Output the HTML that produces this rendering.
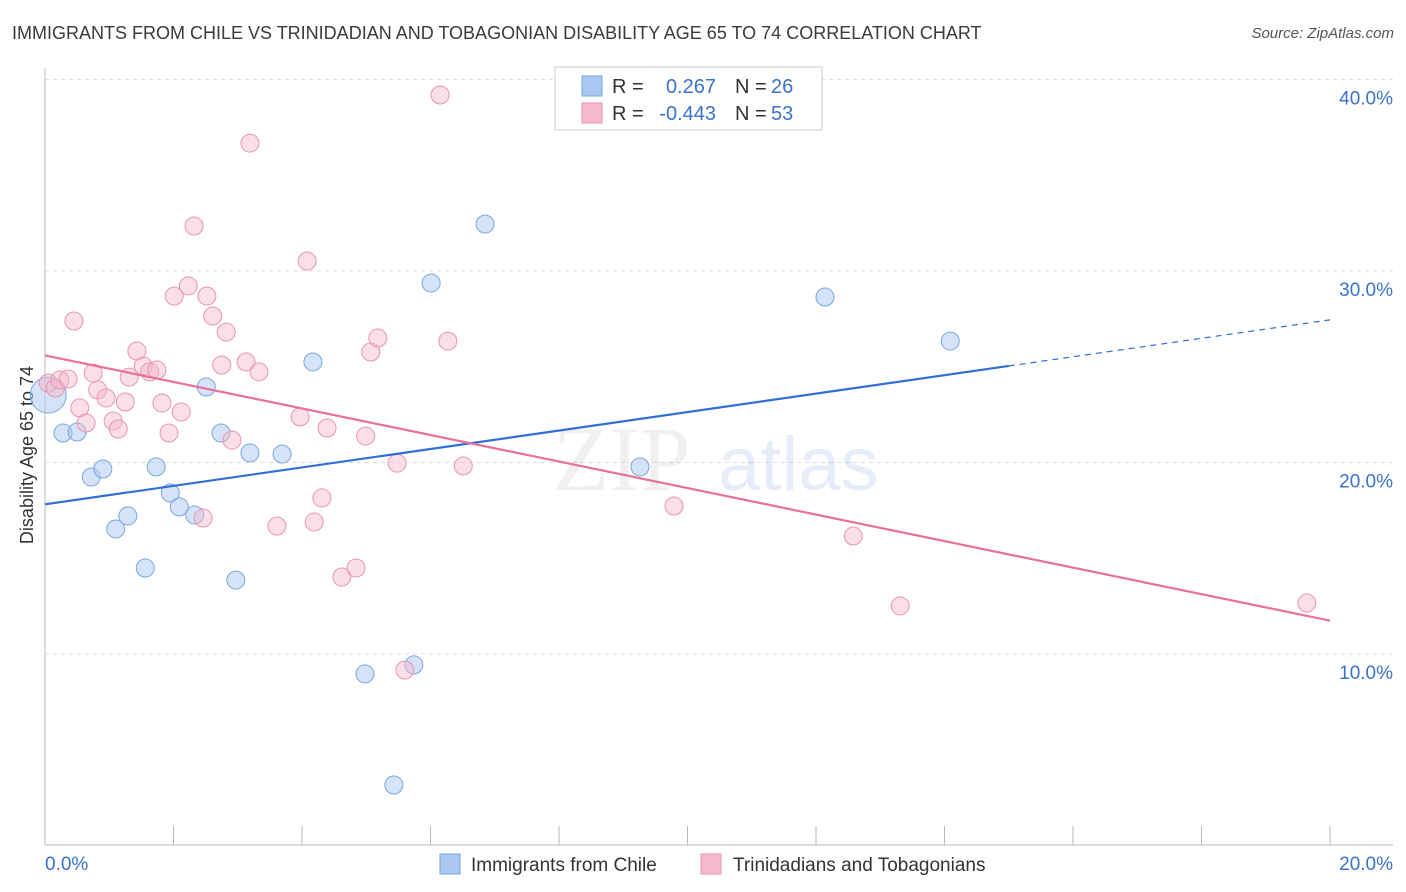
<!DOCTYPE html>
<html><head><meta charset="utf-8"><style>
body{margin:0;background:#fff;font-family:"Liberation Sans",sans-serif;}
#wrap{position:relative;width:1406px;height:892px;overflow:hidden;}
.t{position:absolute;white-space:nowrap;}
</style></head><body>
<div id="wrap">
<div class="t" style="left:12px;top:23px;font-size:18px;color:#3a3a3a">IMMIGRANTS FROM CHILE VS TRINIDADIAN AND TOBAGONIAN DISABILITY AGE 65 TO 74 CORRELATION CHART</div>
<div class="t" style="right:12px;top:25px;font-size:15px;color:#555;font-style:italic">Source: ZipAtlas.com</div>
<svg id="svg" width="1406" height="892" style="position:absolute;left:0;top:0"></svg>
</div>
<script>
const blueX=[0.05,0.28,0.50,0.72,0.90,1.10,1.29,1.56,1.73,1.95,2.09,2.33,2.51,2.74,2.97,3.19,3.69,4.17,4.98,5.43,5.74,6.01,6.85,9.26,12.14,14.09];
const blueY=[23.52,21.54,21.59,19.24,19.66,16.53,17.21,14.49,19.77,18.41,17.68,17.26,23.94,21.54,13.86,20.50,20.44,25.25,8.96,3.16,9.43,29.37,32.45,19.77,28.64,26.34];
const pinkX=[0.05,0.16,0.23,0.36,0.45,0.54,0.64,0.75,0.82,0.95,1.06,1.14,1.25,1.31,1.43,1.53,1.63,1.74,1.82,1.93,2.01,2.12,2.23,2.32,2.46,2.52,2.61,2.75,2.82,2.91,3.13,3.19,3.33,3.61,3.97,4.08,4.19,4.31,4.39,4.62,4.84,4.99,5.07,5.18,5.48,5.60,6.15,6.27,6.51,9.79,12.58,13.31,19.64];
const pinkY=[24.15,23.89,24.31,24.36,27.39,22.85,22.06,24.67,23.79,23.37,22.17,21.75,23.16,24.46,25.82,25.04,24.73,24.83,23.11,21.54,28.69,22.64,29.22,32.35,17.10,28.69,27.65,25.09,26.81,21.17,25.25,36.68,24.73,16.68,22.38,30.52,16.89,18.15,21.80,14.02,14.49,21.38,25.77,26.50,19.97,9.16,39.19,26.34,19.82,17.73,16.16,12.51,12.66];
const yTicks=[10,20,30,40];
const yTickLabels=["10.0%","20.0%","30.0%","40.0%"];
const xTickLabels=["0.0%","20.0%"];
const legendR=["0.267","-0.443"];
const legendN=["26","53"];

const X=v=>45+v*64.25, Y=v=>654-(v-10)*19.15;
const svg=document.getElementById('svg');
const NS='http://www.w3.org/2000/svg';
function mk(tag,attrs,parent){const e=document.createElementNS(NS,tag);for(const k in attrs)e.setAttribute(k,attrs[k]);(parent||svg).appendChild(e);return e;}

yTicks.forEach((t,i)=>{
  const g=mk('line',{x1:45,x2:1393,y1:Y(t),y2:Y(t),stroke:'#ddd','stroke-dasharray':'4,4'});
  
  
  const tx=mk('text',{x:1393,y:Y(t)+25,'text-anchor':'end','font-size':19,fill:'#3b73c8','font-family':'Liberation Sans'});
  tx.textContent=yTickLabels[i];
  
  
});
const ax=mk('line',{x1:45,x2:45,y1:68,y2:845,stroke:'#bbb'});


const bx=mk('line',{x1:45,x2:1393,y1:845,y2:845,stroke:'#bbb'});


for(let i=0;i<=10;i++){const l=mk('line',{x1:X(i*2),x2:X(i*2),y1:826,y2:845,stroke:'#bbb'});
  
  }
const xl0=mk('text',{x:45,y:870,'font-size':19,fill:'#3b73c8','font-family':'Liberation Sans'});xl0.textContent=xTickLabels[0];


const xl1=mk('text',{x:1393,y:870,'text-anchor':'end','font-size':19,fill:'#3b73c8','font-family':'Liberation Sans'});xl1.textContent=xTickLabels[1];


const yt=mk('text',{x:0,y:0,transform:'translate(33,455) rotate(-90)','text-anchor':'middle','font-size':18,fill:'#333','font-family':'Liberation Sans'});yt.textContent='Disability Age 65 to 74';


const wm=mk('text',{x:553,y:490,'font-size':92,fill:'#000','fill-opacity':0.06,'font-family':'Liberation Serif'});wm.textContent='ZIP';


const wm2=mk('text',{x:718,y:490,'font-size':76,fill:'#3b73c8','fill-opacity':0.13,'font-family':'Liberation Sans'});wm2.textContent='atlas';



function reg(xs,ys){const n=xs.length;let mx=0,my=0;xs.forEach((v,i)=>{mx+=v;my+=ys[i]});mx/=n;my/=n;let sxy=0,sxx=0;xs.forEach((v,i)=>{sxy+=(v-mx)*(ys[i]-my);sxx+=(v-mx)**2});const b=sxy/sxx;return [my-b*mx,b];}

blueX.forEach((x,i)=>{const c=mk('circle',{cx:X(x),cy:Y(blueY[i]),r:i===0?18:9,fill:'#a9c8f0','fill-opacity':0.5,stroke:'#7aa6e0','stroke-width':1});
  
  });
pinkX.forEach((x,i)=>{const c=mk('circle',{cx:X(x),cy:Y(pinkY[i]),r:9,fill:'#f5b9cd','fill-opacity':0.45,stroke:'#e994b1','stroke-width':1});
  
  });

const [ba,bb]=reg(blueX,blueY);
const bl=mk('line',{x1:X(0),y1:Y(ba),x2:X(15),y2:Y(ba+bb*15),stroke:'#2f6fd6','stroke-width':2.2});


const bd=mk('line',{x1:X(15),y1:Y(ba+bb*15),x2:X(20),y2:Y(ba+bb*20),stroke:'#2f6fd6','stroke-width':1.2,'stroke-dasharray':'6,5'});


const [pa,pb]=reg(pinkX,pinkY);
const pl=mk('line',{x1:X(0),y1:Y(pa),x2:X(20),y2:Y(pa+pb*20),stroke:'#e8719a','stroke-width':2.2});



const lg=mk('g',{});


mk('rect',{x:555,y:67,width:267,height:63,fill:'#fff',stroke:'#ccc'},lg);
[['#a9c8f0','#7aa6e0'],['#f5b9cd','#e994b1']].forEach((c,i)=>{
  mk('rect',{x:582,y:76+i*27,width:20,height:20,fill:c[0],stroke:c[1]},lg);
  const t=mk('text',{x:612,y:93+i*27,'font-size':20,fill:'#333','font-family':'Liberation Sans'},lg);
  t.textContent='R =';
  const tv=mk('text',{x:716,y:93+i*27,'text-anchor':'end','font-size':20,fill:'#3b73c8','font-family':'Liberation Sans'},lg);
  tv.textContent=legendR[i];
  const t2=mk('text',{x:735,y:93+i*27,'font-size':20,fill:'#333','font-family':'Liberation Sans'},lg);
  t2.textContent='N =';
  const tn=mk('text',{x:771,y:93+i*27,'font-size':20,fill:'#3b73c8','font-family':'Liberation Sans'},lg);
  tn.textContent=legendN[i];
});
const bl1=mk('rect',{x:440,y:854,width:20,height:20,fill:'#a9c8f0',stroke:'#7aa6e0'});


const bt1=mk('text',{x:471,y:871,'font-size':19,fill:'#333','font-family':'Liberation Sans'});bt1.textContent='Immigrants from Chile';


const bl2=mk('rect',{x:701,y:854,width:20,height:20,fill:'#f5b9cd',stroke:'#e994b1'});


const bt2=mk('text',{x:733,y:871,'font-size':19,fill:'#333','font-family':'Liberation Sans'});bt2.textContent='Trinidadians and Tobagonians';


</script>
</body></html>
